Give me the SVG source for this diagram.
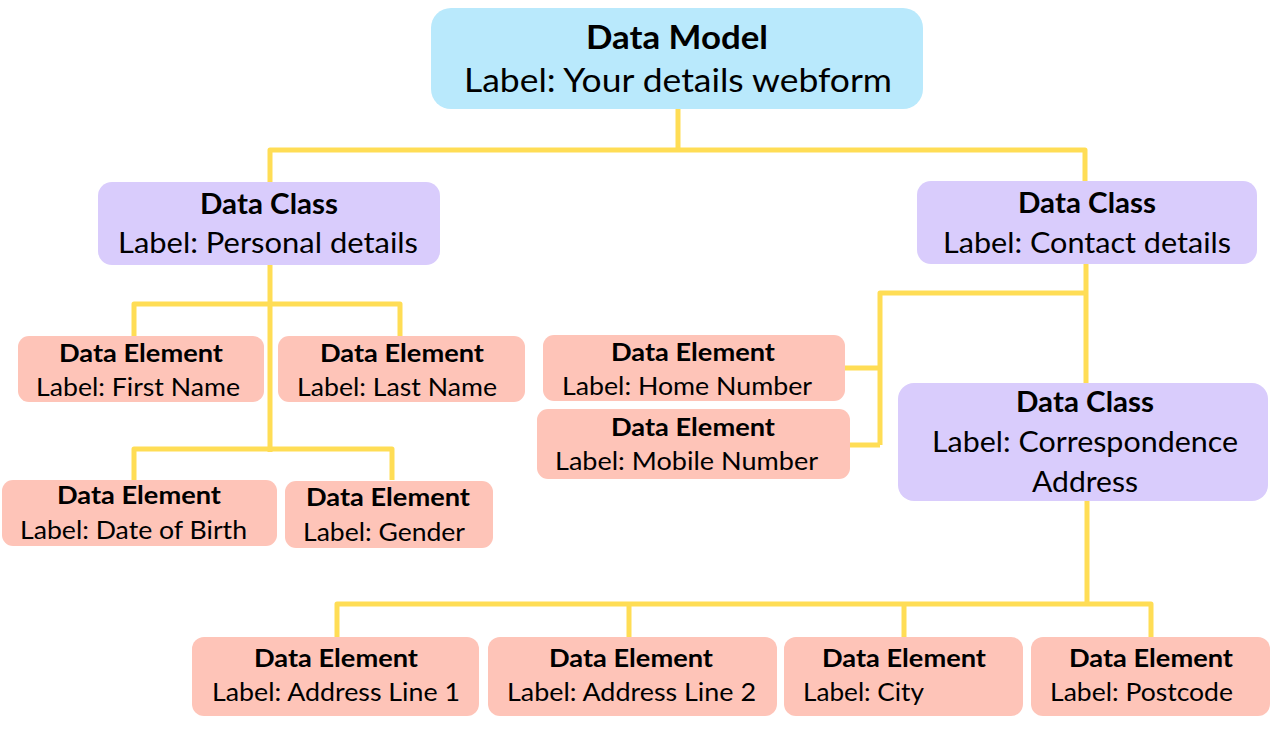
<svg xmlns="http://www.w3.org/2000/svg" width="1272" height="731" viewBox="0 0 1272 731">
<style>
.model{fill:#B9E9FC}
.cls{fill:#D9CCFC}
.el{fill:#FEC4B8}
text{font-family:Lato,"Open Sans","Liberation Sans",sans-serif;fill:#000;text-anchor:middle}
.t1{font-size:33px;font-weight:bold}
.l1{font-size:32px}
.t2{font-size:28.5px;font-weight:bold}
.l2{font-size:28px}
.t3{font-size:24.5px;font-weight:bold}
.l3{font-size:24.5px}
.conn{fill:none;stroke:#FFDD55;stroke-width:5;stroke-linejoin:round}
</style>
<rect width="1272" height="731" fill="#fff"/>
<g id="connectors">
<path class="conn" d="M678 109V150M270 182V150H1085V181"/>
<path class="conn" d="M270 265V452M134 336V304H400V336M134 480V449H392V480"/>
<path class="conn" d="M1086 264V383M1086 293H880V445M845 368H880M850 445H880"/>
<path class="conn" d="M1087 501V604M337 637V604H1151V637M629 604V637M904 604V637"/>
</g>
<g id="model">
<rect class="model" x="431" y="8" width="492" height="101" rx="20"/>
<text class="t1" x="677" y="49" textLength="182" lengthAdjust="spacingAndGlyphs">Data Model</text>
<text class="l1" x="678" y="92" textLength="428" lengthAdjust="spacingAndGlyphs">Label: Your details webform</text>
</g>
<g id="class-personal">
<rect class="cls" x="98" y="182" width="342" height="83" rx="14"/>
<text class="t2" x="269" y="214" textLength="138" lengthAdjust="spacingAndGlyphs">Data Class</text>
<text class="l2" x="268" y="253" textLength="300" lengthAdjust="spacingAndGlyphs">Label: Personal details</text>
</g>
<g id="class-contact">
<rect class="cls" x="917" y="181" width="340" height="83" rx="14"/>
<text class="t2" x="1087" y="213" textLength="138" lengthAdjust="spacingAndGlyphs">Data Class</text>
<text class="l2" x="1087" y="253" textLength="288" lengthAdjust="spacingAndGlyphs">Label: Contact details</text>
</g>
<g id="class-correspondence">
<rect class="cls" x="898" y="383" width="370" height="118" rx="16"/>
<text class="t2" x="1085" y="412" textLength="138" lengthAdjust="spacingAndGlyphs">Data Class</text>
<text class="l2" x="1085" y="452" textLength="306" lengthAdjust="spacingAndGlyphs">Label: Correspondence</text>
<text class="l2" x="1085" y="492" textLength="106" lengthAdjust="spacingAndGlyphs">Address</text>
</g>
<g id="el-first-name">
<rect class="el" x="18" y="336" width="246" height="66" rx="11"/>
<text class="t3" x="141" y="362" textLength="164" lengthAdjust="spacingAndGlyphs">Data Element</text>
<text class="l3" x="138" y="396" textLength="204" lengthAdjust="spacingAndGlyphs">Label: First Name</text>
</g>
<g id="el-last-name">
<rect class="el" x="278" y="336" width="247" height="66" rx="11"/>
<text class="t3" x="402" y="362" textLength="164" lengthAdjust="spacingAndGlyphs">Data Element</text>
<text class="l3" x="397" y="396" textLength="200" lengthAdjust="spacingAndGlyphs">Label: Last Name</text>
</g>
<g id="el-dob">
<rect class="el" x="2" y="480" width="275" height="66" rx="11"/>
<text class="t3" x="139" y="504" textLength="164" lengthAdjust="spacingAndGlyphs">Data Element</text>
<text class="l3" x="133.5" y="539" textLength="227" lengthAdjust="spacingAndGlyphs">Label: Date of Birth</text>
</g>
<g id="el-gender">
<rect class="el" x="285" y="481" width="208" height="67" rx="11"/>
<text class="t3" x="388" y="506" textLength="164" lengthAdjust="spacingAndGlyphs">Data Element</text>
<text class="l3" x="384" y="541" textLength="162" lengthAdjust="spacingAndGlyphs">Label: Gender</text>
</g>
<g id="el-home">
<rect class="el" x="543" y="335" width="302" height="66" rx="11"/>
<text class="t3" x="693" y="361" textLength="164" lengthAdjust="spacingAndGlyphs">Data Element</text>
<text class="l3" x="687" y="395" textLength="250" lengthAdjust="spacingAndGlyphs">Label: Home Number</text>
</g>
<g id="el-mobile">
<rect class="el" x="537" y="409" width="313" height="70" rx="11"/>
<text class="t3" x="693" y="436" textLength="164" lengthAdjust="spacingAndGlyphs">Data Element</text>
<text class="l3" x="686.5" y="470" textLength="263" lengthAdjust="spacingAndGlyphs">Label: Mobile Number</text>
</g>
<g id="el-addr1">
<rect class="el" x="192" y="637" width="287" height="79" rx="12"/>
<text class="t3" x="336" y="667" textLength="164" lengthAdjust="spacingAndGlyphs">Data Element</text>
<text class="l3" x="336" y="701" textLength="248" lengthAdjust="spacingAndGlyphs">Label: Address Line 1</text>
</g>
<g id="el-addr2">
<rect class="el" x="488" y="637" width="289" height="79" rx="12"/>
<text class="t3" x="631" y="667" textLength="164" lengthAdjust="spacingAndGlyphs">Data Element</text>
<text class="l3" x="631.5" y="701" textLength="249" lengthAdjust="spacingAndGlyphs">Label: Address Line 2</text>
</g>
<g id="el-city">
<rect class="el" x="784" y="637" width="239" height="79" rx="12"/>
<text class="t3" x="904" y="667" textLength="164" lengthAdjust="spacingAndGlyphs">Data Element</text>
<text class="l3" x="863.5" y="701" textLength="121" lengthAdjust="spacingAndGlyphs">Label: City</text>
</g>
<g id="el-postcode">
<rect class="el" x="1031" y="637" width="239" height="79" rx="12"/>
<text class="t3" x="1151" y="667" textLength="164" lengthAdjust="spacingAndGlyphs">Data Element</text>
<text class="l3" x="1141.5" y="701" textLength="183" lengthAdjust="spacingAndGlyphs">Label: Postcode</text>
</g>
</svg>
